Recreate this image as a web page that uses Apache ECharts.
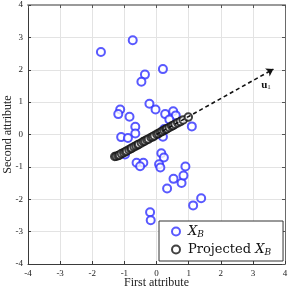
<!DOCTYPE html>
<html><head><meta charset="utf-8">
<script src="https://cdn.jsdelivr.net/npm/echarts@6/dist/echarts.min.js"></script>
<style>html,body{margin:0;padding:0;background:#fff}#c{width:291px;height:291px}</style>
</head><body><div id="c"></div>
<script>
// Blue points X_B
var blueX = [-1.73,-0.74,-0.36,-0.47,0.20,-0.22,-0.03,-1.13,-1.19,-0.84,0.27,0.52,0.60,0.40,1.10,-0.66,-0.66,-1.10,-0.89,0.24,0.20,-0.98,-0.62,-0.41,-0.51,0.15,0.23,0.08,0.12,0.53,0.78,0.84,0.90,0.33,1.14,1.39,-0.20,-0.18];
var blueY = [2.55,2.91,1.85,1.63,2.02,0.95,0.77,0.77,0.63,0.55,0.63,0.72,0.59,0.46,0.25,0.24,0.03,-0.08,-0.11,0.17,-0.07,-0.62,-0.87,-0.87,-0.98,-0.58,-0.71,-0.92,-1.02,-1.37,-1.50,-1.27,-0.99,-1.67,-2.19,-1.97,-2.40,-2.65];
// Projected points
var projX = [-1.30,-1.25,-1.19,-1.15,-1.09,-1.02,-0.97,-0.93,-0.86,-0.80,-0.77,-0.70,-0.64,-0.58,-0.55,-0.47,-0.41,-0.36,-0.30,-0.25,-0.17,-0.12,-0.07,0.01,0.06,0.12,0.17,0.23,0.29,0.33,0.40,0.47,0.52,0.58,0.66,0.74,0.83,0.99];
var projY = [-0.68,-0.67,-0.65,-0.63,-0.59,-0.56,-0.53,-0.51,-0.47,-0.44,-0.42,-0.38,-0.35,-0.32,-0.30,-0.26,-0.22,-0.20,-0.16,-0.14,-0.09,-0.07,-0.04,0.01,0.03,0.07,0.09,0.13,0.16,0.18,0.22,0.26,0.28,0.32,0.36,0.40,0.45,0.54];
// Direction arrow u1
var arrowStart = [0, 0];
var arrowEnd = [3.64, 2.02];
var u1LabelPos = [3.41, 1.53];

var serif = '"Liberation Serif","DejaVu Serif",serif';
var wideSerif = '"DejaVu Serif","Liberation Serif",serif';
function pairs(xs, ys){ return xs.map(function(x,i){return [x, ys[i]];}); }

var chart = echarts.init(document.getElementById('c'));
var gridLine = {show:true, lineStyle:{color:'#e3e3e3', width:1}};
var baseAxis = {
  type:'value', min:-4, max:4, interval:1,
  axisLine:{show:true, onZero:false, lineStyle:{color:'#3a3a3a', width:1}},
  axisTick:{show:true, inside:true, length:3, lineStyle:{color:'#3a3a3a'}},
  splitLine:gridLine,
  axisLabel:{fontFamily:serif, fontSize:9, color:'#222', margin:5}
};
chart.setOption({
  animation:false,
  backgroundColor:'#fff',
  grid:{left:28, right:6, top:5, bottom:27, containLabel:false, outerBoundsMode:'none'},
  xAxis:[
    Object.assign({}, baseAxis, {position:'bottom', name:'First attribute', nameLocation:'middle', nameGap:13, nameMoveOverlap:false,
      nameTextStyle:{fontFamily:serif, fontSize:12, color:'#222'}}),
    Object.assign({}, baseAxis, {position:'top', axisLabel:{show:false}, splitLine:{show:false},
      axisLine:{show:true, onZero:false, lineStyle:{color:'#9a9a9a', width:2}},
      axisTick:{show:true, inside:true, length:3, lineStyle:{color:'#555'}}})
  ],
  yAxis:[
    Object.assign({}, baseAxis, {position:'left', name:'Second attribute', nameLocation:'middle', nameGap:14, nameMoveOverlap:false,
      nameTextStyle:{fontFamily:serif, fontSize:12, color:'#222'}}),
    Object.assign({}, baseAxis, {position:'right', axisLabel:{show:false}, splitLine:{show:false},
      axisLine:{show:true, onZero:false, lineStyle:{color:'#6a6a6a', width:1}},
      axisTick:{show:true, inside:true, length:3, lineStyle:{color:'#555'}}})
  ],
  legend:{
    orient:'vertical', left:159, top:221,
    backgroundColor:'#fff', borderColor:'#333', borderWidth:1, borderRadius:0,
    padding:[4,12,4,12], itemGap:4, itemWidth:8, itemHeight:8,
    data:[{name:'XB', icon:'emptyCircle', itemStyle:{borderWidth:1}},{name:'PXB', icon:'emptyCircle', itemStyle:{borderWidth:1}}],
    formatter:function(n){ return n==='XB' ? '{i|X}{s|B}' : '{t|Projected }{i|X}{s|B}'; },
    textStyle:{fontFamily:wideSerif, fontSize:13, color:'#111', padding:[0,0,0,3],
      rich:{
        i:{fontFamily:wideSerif, fontStyle:'italic', fontSize:13, color:'#111'},
        s:{fontFamily:wideSerif, fontStyle:'italic', fontSize:9, color:'#111', verticalAlign:'bottom', padding:[6,0,0,0]},
        t:{fontFamily:wideSerif, fontSize:13, color:'#111'}
      }}
  },
  series:[
    {
      name:'XB', type:'scatter', symbol:'emptyCircle', symbolSize:8, z:3,
      itemStyle:{color:'#3030ff', borderColor:'#3030ff', borderWidth:1},
      data:pairs(blueX, blueY)
    },
    {
      name:'PXB', type:'scatter', symbol:'emptyCircle', symbolSize:7.5, z:4,
      itemStyle:{color:'#111', borderColor:'#111', borderWidth:1},
      data:pairs(projX, projY),
      markLine:{
        silent:true, symbol:['none','arrow'], symbolSize:[7,7], precision:3,
        lineStyle:{color:'#111', type:[4,3], width:1.6},
        label:{show:false},
        data:[[{coord:arrowStart},{coord:arrowEnd}]]
      },
      markPoint:{
        silent:true, symbol:'circle', symbolSize:0,
        label:{show:true, position:'inside', formatter:'{b|u}{s|1}',
          rich:{b:{fontFamily:serif, fontWeight:'bold', fontSize:11, color:'#111'},
                s:{fontFamily:serif, fontSize:7, color:'#111', verticalAlign:'bottom', padding:[4,0,0,0]}}},
        data:[{coord:u1LabelPos}]
      }
    }
  ]
});
</script></body></html>
